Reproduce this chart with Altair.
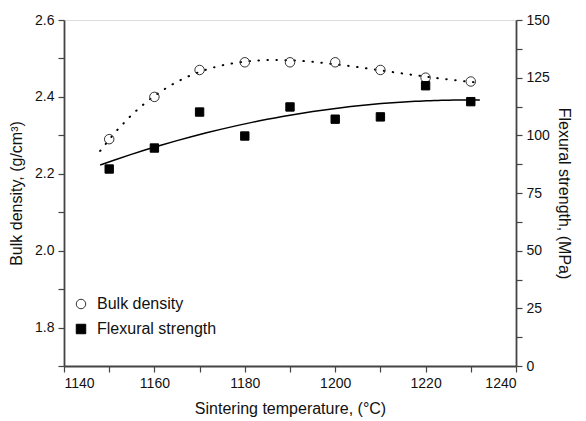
import altair as alt
import pandas as pd

temps = [1150, 1160, 1170, 1180, 1190, 1200, 1210, 1220, 1230]
density = [2.29, 2.40, 2.47, 2.49, 2.49, 2.49, 2.47, 2.45, 2.44]
strength = [85.4, 94.5, 110.1, 99.7, 112.3, 107.0, 108.0, 121.5, 114.6]
series_names = ["Bulk density", "Flexural strength"]

dens_df = pd.DataFrame({"T": temps, "v": density, "series": series_names[0]})
str_df = pd.DataFrame({"T": temps, "v": strength, "series": series_names[1]})

FONT = "Liberation Sans"
TW = 400
TS = 16
TC = "#111"

common = dict(titleFontWeight=TW, titleFontSize=TS, titleFont=FONT, titleColor=TC,
              labelFont=FONT, labelFontSize=14, labelColor="#111", labelPadding=4,
              domainColor="#444", domainWidth=1.8, tickColor="#444", tickWidth=1.2,
              tickSize=6, grid=False)

x_enc = alt.X("T:Q", scale=alt.Scale(domain=[1140, 1240], nice=False),
              axis=alt.Axis(title="Sintering temperature, (°C)",
                            values=list(range(1140, 1241, 10)),
                            labelExpr="datum.value % 20 == 0 ? datum.label : ''",
                            format="d", titlePadding=10, **common))

left_axis = alt.Axis(title="Bulk density, (g/cm³)", orient="left",
                     values=[round(1.7 + 0.1 * i, 1) for i in range(10)],
                     labelExpr="(round(datum.value*10) % 2 == 0 && datum.value > 1.75) ? format(datum.value, '.1f') : ''",
                     titlePadding=10, **common)
right_axis = alt.Axis(title="Flexural strength, (MPa)", orient="right",
                      values=[12.5 * i for i in range(13)],
                      labelExpr="datum.value % 25 == 0 ? format(datum.value, 'd') : ''",
                      titlePadding=6, **common)

shape_scale = alt.Scale(domain=series_names, range=["circle", "square"])
fill_scale = alt.Scale(domain=series_names, range=["transparent", "black"])
stroke_scale = alt.Scale(domain=series_names, range=["#333", "black"])

legend = alt.Legend(title=None, orient="none", legendX=9, legendY=276,
                    labelFontSize=16, labelFont=FONT, labelColor="#111", symbolSize=90,
                    symbolStrokeWidth=1, rowPadding=9, labelOffset=8)

dens_y = alt.Y("v:Q", scale=alt.Scale(domain=[1.7, 2.6], nice=False, zero=False), axis=left_axis)
str_y = alt.Y("v:Q", scale=alt.Scale(domain=[0, 150], nice=False), axis=right_axis)

dens_line = alt.Chart(dens_df).mark_line(color="black", strokeWidth=2, strokeDash=[0.5, 8.5], strokeCap="round").encode(
    x=x_enc, y=dens_y
).transform_regression("T", "v", method="poly", order=4, extent=[1148, 1232])

dens_pts = alt.Chart(dens_df).mark_point(filled=True, strokeWidth=1, opacity=1, size=90).encode(
    x=x_enc, y=dens_y,
    shape=alt.Shape("series:N", scale=shape_scale, legend=legend),
    fill=alt.Fill("series:N", scale=fill_scale, legend=legend),
    stroke=alt.Stroke("series:N", scale=stroke_scale, legend=legend),
)

str_line = alt.Chart(str_df).mark_line(color="black", strokeWidth=1.5).encode(
    x=x_enc, y=str_y
).transform_regression("T", "v", method="poly", order=2, extent=[1148, 1232])

str_pts = alt.Chart(str_df).mark_point(filled=True, strokeWidth=1, opacity=1, size=70).encode(
    x=x_enc, y=str_y,
    shape=alt.Shape("series:N", scale=shape_scale, legend=legend),
    fill=alt.Fill("series:N", scale=fill_scale, legend=legend),
    stroke=alt.Stroke("series:N", scale=stroke_scale, legend=legend),
)

left = alt.layer(dens_line, dens_pts)
right = alt.layer(str_line, str_pts)

chart = alt.layer(left, right).resolve_scale(y="independent").properties(
    width=452, height=346, padding={"left": 0, "right": 1, "top": 5, "bottom": 5}
).configure_view(stroke="#999", strokeWidth=1).configure(background="white")

chart.save("out.html", embed_options={"renderer": "svg", "actions": False})
